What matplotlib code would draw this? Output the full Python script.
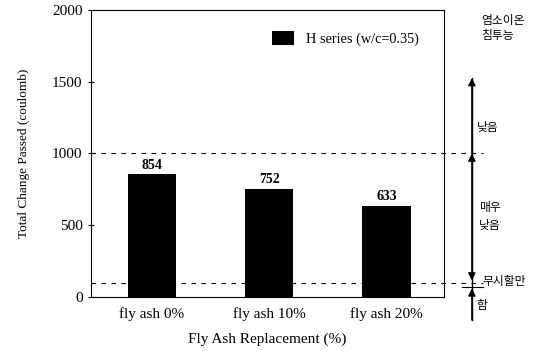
import matplotlib.pyplot as plt
import matplotlib.transforms as mtransforms

categories = ['fly ash 0%', 'fly ash 10%', 'fly ash 20%']
charge = [854, 752, 633]
series_label = 'H series (w/c=0.35)'
limits = [1000, 100]

plt.rcParams['font.family'] = ['Liberation Serif', 'Noto Sans CJK KR']

fig = plt.figure(figsize=(5.36, 3.51), dpi=100)
ax = fig.add_axes([91 / 536, 54 / 351, 353 / 536, 287 / 351])

x = range(len(categories))
ax.bar(x, charge, width=0.41, color='black', label=series_label, zorder=3)
for xi, v in zip(x, charge):
    ax.text(xi, v + 20, str(v), ha='center', va='bottom', fontsize=10, fontweight='bold')

ax.set_xlim(-0.52, 2.49)
ax.set_ylim(0, 2000)
ax.set_yticks([0, 500, 1000, 1500, 2000])
ax.set_xticks(list(x))
ax.set_xticklabels(categories, fontsize=11)
ax.tick_params(axis='x', length=0, pad=7)
ax.tick_params(axis='y', direction='inout', length=5, labelsize=11)
ax.set_ylabel('Total Change Passed (coulomb)', fontsize=9.5, labelpad=16)
ax.set_xlabel('Fly Ash Replacement (%)', fontsize=11, labelpad=9)

# dashed limit lines running past the right edge
trans = mtransforms.blended_transform_factory(ax.transAxes, ax.transData)
for lim in limits:
    ax.plot([0.0, 1.11], [lim, lim], transform=trans, ls=(0, (4, 5)), color='black',
            lw=0.8, clip_on=False, zorder=2)
ax.plot([1.05, 1.11], [70, 70], transform=trans, color='black', lw=0.8, clip_on=False)

# chloride penetration scale
ax_x = 1.079
ax.plot([ax_x, ax_x], [-160, 1526], transform=trans, color='black', lw=1.0, clip_on=False)
arrows = [(1000, 1526), (500, 1000), (500, 115), (-160, 60)]
for start, end in arrows:
    ax.annotate('', xy=(ax_x, end), xytext=(ax_x, start), xycoords=trans, textcoords=trans,
                arrowprops=dict(arrowstyle='-|>', color='black', lw=1.0,
                                mutation_scale=11, shrinkA=0, shrinkB=0),
                annotation_clip=False)

kfont = dict(fontsize=8.5, family=['Noto Sans CJK KR', 'DejaVu Sans'])
ax.text(1.105, 1975, '염소이온\n침투능', transform=trans, ha='left', va='top', **kfont)
ax.text(1.093, 1180, '낮음', transform=trans, ha='left', va='center', **kfont)
ax.text(1.1, 560, '매우\n낮음', transform=trans, ha='left', va='center', linespacing=1.5, **kfont)
ax.text(1.11, 105, '무시할만', transform=trans, ha='left', va='center', **kfont)
ax.text(1.093, -60, '함', transform=trans, ha='left', va='center', **kfont)

ax.legend(loc='upper right', frameon=False, fontsize=10.3, handlelength=1.6,
          handleheight=1.1, bbox_to_anchor=(0.965, 0.97))

fig.savefig('out.png', dpi=100)
